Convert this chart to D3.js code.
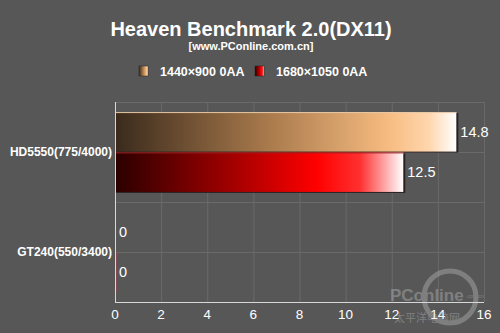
<!DOCTYPE html>
<html lang="zh">
<head>
<meta charset="UTF-8">
<title>Heaven Benchmark 2.0(DX11)</title>
<script src="https://d3js.org/d3.v7.min.js"></script>
<style>
  body { margin: 0; background: #575757; }
  svg { display: block; font-family: "Liberation Sans", Arial, sans-serif; }
</style>
</head>
<body>
<svg id="chart" width="500" height="333"></svg>
<script>
const categories = ["HD5550(775/4000)", "GT240(550/3400)"];
const seriesNames = ["1440×900 0AA", "1680×1050 0AA"];
const series1440 = [14.8, 0];
const series1680 = [12.5, 0];
const xTicks = [0, 2, 4, 6, 8, 10, 12, 14, 16];

const width = 500, height = 333;
const margin = { top: 102, right: 16, bottom: 31, left: 115 };
const svg = d3.select("#chart");

svg.append("rect").attr("width", width).attr("height", height).attr("fill", "#575757");

// gradients
const defs = svg.append("defs");
const grads = [
  { id: "g0", stops: [["0%", "#3a2a1c"], ["45%", "#a97a4c"], ["80%", "#f6bb80"], ["92%", "#ffd6ae"], ["100%", "#ffffff"]] },
  { id: "g1", stops: [["0%", "#2a0000"], ["45%", "#b00000"], ["70%", "#ff0000"], ["85%", "#ff3030"], ["100%", "#ffffff"]] }
];
grads.forEach(g => {
  const lg = defs.append("linearGradient").attr("id", g.id).attr("x1", "0").attr("x2", "1").attr("y1", "0").attr("y2", "0");
  g.stops.forEach(s => lg.append("stop").attr("offset", s[0]).attr("stop-color", s[1]));
});

const x = d3.scaleLinear().domain([0, 16]).range([margin.left, width - margin.right]);
const y = d3.scaleBand().domain(categories).range([margin.top, height - margin.bottom]);
const sub = d3.scaleBand().domain(seriesNames).range([0, y.bandwidth()]).paddingOuter(0.25).paddingInner(0.02);

// title
svg.append("text").attr("x", 251).attr("y", 36).attr("text-anchor", "middle")
  .attr("fill", "#fff").attr("font-size", 20).attr("font-weight", "bold")
  .text("Heaven Benchmark 2.0(DX11)");
svg.append("text").attr("x", 251).attr("y", 50).attr("text-anchor", "middle")
  .attr("fill", "#fff").attr("font-size", 11).attr("font-weight", "bold")
  .text("[www.PConline.com.cn]");

// legend
const legendX = [139, 255];
seriesNames.forEach((n, i) => {
  const g = svg.append("g").attr("transform", `translate(${legendX[i]},66)`);
  g.append("rect").attr("width", 9).attr("height", 10).attr("fill", `url(#g${i})`)
    .attr("stroke", "#222").attr("stroke-width", 0.5);
  g.append("text").attr("x", 21).attr("y", 9.5).attr("fill", "#fff")
    .attr("font-size", 12.5).attr("font-weight", "bold").text(n);
});

// grid
const grid = svg.append("g").attr("stroke", "#6a6a6a").attr("stroke-width", 1);
xTicks.slice(1).forEach(t => {
  grid.append("line").attr("x1", x(t) + 0.5).attr("x2", x(t) + 0.5)
    .attr("y1", margin.top).attr("y2", height - margin.bottom);
});
const yLines = d3.range(0, 5).map(i => margin.top + i * y.bandwidth() / 2);
yLines.forEach(v => {
  grid.append("line").attr("x1", margin.left).attr("x2", width - margin.right)
    .attr("y1", v + 0.5).attr("y2", v + 0.5);
});

// bars
const data = [series1440, series1680];
data.forEach((vals, si) => {
  categories.forEach((c, ci) => {
    const v = vals[ci];
    const by = y(c) + sub(seriesNames[si]);
    const bh = sub.bandwidth();
    const w = x(v) - x(0);
    if (w > 0) {
      svg.append("rect").attr("x", x(0) + 1).attr("y", by + 1).attr("width", w + 1).attr("height", bh)
        .attr("fill", "#2a2020");
      svg.append("rect").attr("x", x(0)).attr("y", by).attr("width", w).attr("height", bh)
        .attr("fill", `url(#g${si})`);
      svg.append("line").attr("x1", x(0)).attr("x2", x(v)).attr("y1", by + 0.5).attr("y2", by + 0.5)
        .attr("stroke", si === 0 ? "#e8c9a6" : "#a02020").attr("stroke-width", 1);
    } else if (si === 1) {
      svg.append("rect").attr("x", x(0)).attr("y", by).attr("width", 1.5).attr("height", bh)
        .attr("fill", "#b04050");
    }
    svg.append("text").attr("x", x(v) + 4).attr("y", by + bh / 2 + 5)
      .attr("fill", "#fff").attr("font-size", 14.5).text(v);
  });
});

// axes
svg.append("line").attr("x1", x(0) + 0.5).attr("x2", x(0) + 0.5)
  .attr("y1", margin.top).attr("y2", height - margin.bottom + 1)
  .attr("stroke", "#d8d8d8").attr("stroke-width", 1);
svg.append("line").attr("x1", x(0)).attr("x2", width - margin.right)
  .attr("y1", height - margin.bottom + 0.5).attr("y2", height - margin.bottom + 0.5)
  .attr("stroke", "#d8d8d8").attr("stroke-width", 1);

xTicks.forEach(t => {
  svg.append("text").attr("x", x(t)).attr("y", 319).attr("text-anchor", "middle")
    .attr("fill", "#fff").attr("font-size", 13.5).text(t);
});

categories.forEach(c => {
  svg.append("text").attr("x", 112).attr("y", y(c) + y.bandwidth() / 2 + 4)
    .attr("text-anchor", "end").attr("fill", "#fff").attr("font-size", 12)
    .attr("font-weight", "bold").text(c);
});

// watermark
const wm = svg.append("g").attr("opacity", 0.3).attr("fill", "#ddd");
wm.append("circle").attr("cx", 450).attr("cy", 297).attr("r", 26).attr("fill", "none")
  .attr("stroke", "#ddd").attr("stroke-width", 5);
wm.append("text").attr("x", 390).attr("y", 301).attr("font-size", 17).attr("font-weight", "bold").text("PConline");
wm.append("text").attr("x", 466).attr("y", 298).attr("font-size", 5).text(".com.cn");
wm.append("text").attr("x", 394).attr("y", 322).attr("font-size", 11)
  .attr("font-family", "Noto Sans CJK SC").text("太平洋电脑网");
</script>
</body>
</html>
